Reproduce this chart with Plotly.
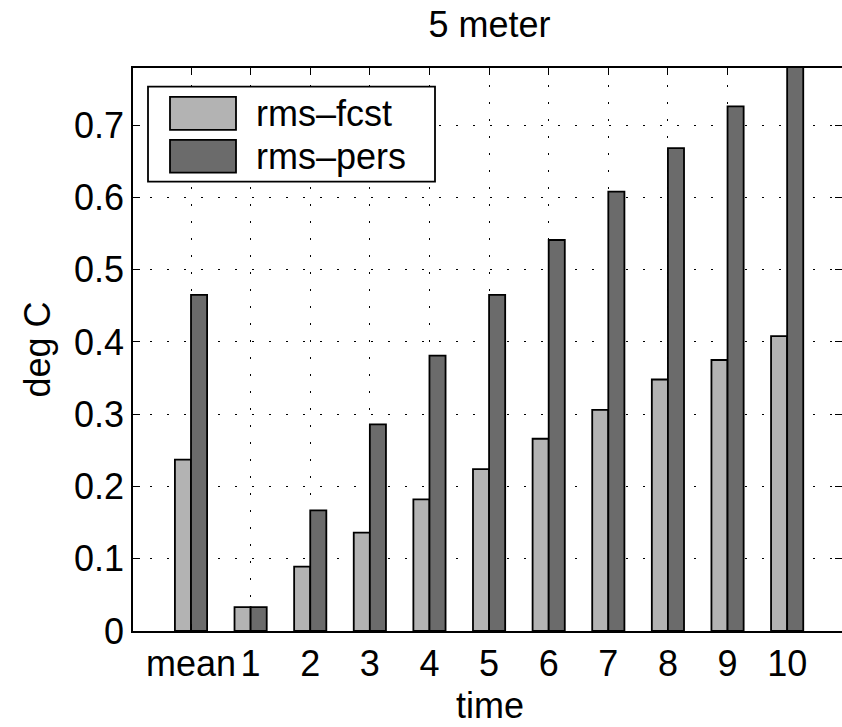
import plotly.graph_objects as go

categories = ["mean", "1", "2", "3", "4", "5", "6", "7", "8", "9", "10"]
rms_fcst = [0.237, 0.033, 0.089, 0.136, 0.182, 0.224, 0.266, 0.306, 0.348, 0.375, 0.408]
rms_pers = [0.465, 0.033, 0.167, 0.286, 0.381, 0.465, 0.541, 0.608, 0.668, 0.726, 0.79]
y_ticks = [0, 0.1, 0.2, 0.3, 0.4, 0.5, 0.6, 0.7]
series_names = ["rms–fcst", "rms–pers"]
series_colors = ["#b3b3b3", "#6b6b6b"]

W, H = 842, 727
L, R, T, B = 133, 0, 68, 95.5
FONT = "Liberation Sans, Arial, sans-serif"
FS = 36

fig = go.Figure()
for name, vals, col in zip(series_names, [rms_fcst, rms_pers], series_colors):
    fig.add_trace(go.Bar(
        x=categories, y=vals, name=name,
        marker=dict(color=col, line=dict(color="black", width=1.8)),
        showlegend=False,
    ))

grid_dash = "2px,15px"
fig.update_layout(
    width=W, height=H,
    margin=dict(l=L, r=R, t=T, b=B, autoexpand=False),
    paper_bgcolor="white", plot_bgcolor="white",
    barmode="group", bargap=0.46, bargroupgap=0,
    font=dict(family=FONT, size=FS, color="black"),
    title=dict(text="5 meter", x=489.5 / W, xref="container",
               xanchor="center", y=1 - 24 / H, yref="container", yanchor="middle",
               font=dict(size=FS)),
    xaxis=dict(
        type="category", categoryorder="array", categoryarray=categories,
        range=[-0.973, 10.92], automargin=False,
        showline=True, linecolor="black", linewidth=1.5, mirror="allticks",
        ticks="inside", ticklen=7, tickcolor="black", tickwidth=1.2,
        showgrid=True, gridcolor="black", gridwidth=1, griddash=grid_dash,
        tickfont=dict(size=FS),
        layer="above traces",
    ),
    yaxis=dict(
        range=[0, 0.779], automargin=False,
        tickvals=y_ticks, ticktext=[("%g" % v) for v in y_ticks],
        showline=True, linecolor="black", linewidth=1.5, mirror="allticks",
        ticks="inside", ticklen=7, tickcolor="black", tickwidth=1.2,
        showgrid=True, gridcolor="black", gridwidth=1, griddash=grid_dash,
        zeroline=False,
        title=dict(text="deg C", standoff=12, font=dict(size=FS)),
        tickfont=dict(size=FS),
        layer="above traces",
    ),
)

PW, PH = W - L - R, H - T - B
def px(x):
    return (x - L) / PW
def py(y):
    return (H - B - y) / PH

shapes = [dict(type="rect", xref="paper", yref="paper",
               x0=px(148), x1=px(435), y0=py(181.7), y1=py(86.7),
               fillcolor="white", line=dict(color="black", width=1.8), layer="above")]
sw_y = [(97, 130), (140, 172.7)]
annotations = []
for (y0, y1), name, col in zip(sw_y, series_names, series_colors):
    shapes.append(dict(type="rect", xref="paper", yref="paper",
                       x0=px(170), x1=px(236), y0=py(y1), y1=py(y0),
                       fillcolor=col, line=dict(color="black", width=1.8), layer="above"))
    annotations.append(dict(xref="paper", yref="paper", x=px(254), y=py((y0 + y1) / 2),
                            text=name, showarrow=False, xanchor="left", yanchor="middle",
                            font=dict(size=FS, family=FONT, color="black")))
annotations.append(dict(xref="paper", yref="paper", x=px(489.5), y=py(706),
                        text="time", showarrow=False, xanchor="center", yanchor="middle",
                        height=30, valign="middle",
                        font=dict(size=FS, family=FONT, color="black")))
fig.update_layout(shapes=shapes, annotations=annotations)

fig.write_html("out.html", config={"displayModeBar": False},
               post_script="document.body.style.margin='0';")
